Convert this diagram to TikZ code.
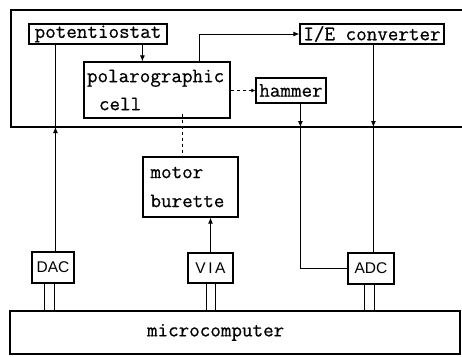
\documentclass[tikz,border=0pt]{standalone}
\usepackage{fontspec}
\setmainfont{Liberation Serif}
\newfontfamily\tw[FakeBold=0.6]{Latin Modern Mono}
\newfontfamily\sfl{Liberation Sans}
\usetikzlibrary{arrows.meta}
\begin{document}
\begin{tikzpicture}[x=1pt,y=-1pt,
  box/.style={draw, line width=1.2pt, inner sep=0pt, font=\tw\fontsize{20.5}{24}\selectfont},
  iobox/.style={draw, line width=1.1pt, inner sep=0pt, font=\sfl\fontsize{15.5}{17}\selectfont},
  conn/.style={line width=0.9pt},
  arr/.style={conn, -{Latex[length=6pt,width=5pt]}},
  darr/.style={conn, dashed, -{Latex[length=4pt,width=4pt]}},
  bus/.style={line width=2pt}]
\useasboundingbox (0,0) rectangle (462,356);
% top bus box (open on right)
\draw[bus] (462,10) -- (11,10) -- (11,127) -- (462,127);
\coordinate (busL) at (11,127);
% nodes
\node[box, minimum width=138pt, minimum height=20pt] (pot) at (98,34) {potentiostat};
\node[box, minimum width=144pt, minimum height=20pt] (ie) at (372,34) {I/E converter};
\node[box, minimum width=146pt, minimum height=56pt, text width=140pt, align=left] (cell) at (157,90)
  {polarographic\\[4pt]\hspace*{12pt}cell};
\node[box, minimum width=70pt, minimum height=25pt] (hammer) at (291,90.5) {hammer};
\node[box, minimum width=95pt, minimum height=60pt, text width=80pt, align=left] (motor) at (190.5,187)
  {motor\\[5pt]burette};
\node[iobox, minimum width=42pt, minimum height=31pt] (dac) at (53,267.5) {DAC};
\node[iobox, minimum width=45pt, minimum height=30pt] (via) at (210.5,268) {V\,I\,A};
\node[iobox, minimum width=46pt, minimum height=31pt] (adc) at (371,268.5) {ADC};
\node[box, line width=1.3pt, minimum width=450pt, minimum height=43pt, text width=444pt, align=left] (mc) at (235,332.5)
  {\hspace*{134pt}microcomputer};
% connectors
\draw[conn] ([xshift=27pt]pot.south west) -- ([xshift=27pt]pot.south west |- busL);
\draw[arr] ([xshift=24pt]dac.north west) -- ([xshift=24pt]dac.north west |- busL);
\draw[arr] ([xshift=114pt]pot.south west) -- ([xshift=114pt]pot.south west |- cell.north);
\draw[arr] ([xshift=116pt]cell.north west) |- (ie.west);
\draw[darr] (cell.east |- hammer.west) -- (hammer.west);
\draw[conn, dashed] ([xshift=99pt,yshift=5pt]cell.south west) -- ([xshift=99pt]cell.south west |- motor.north);
\draw[arr] ([xshift=45pt]hammer.south west) -- ([xshift=45pt]hammer.south west |- busL);
\draw[conn] ([xshift=45pt]hammer.south west |- busL) |- (adc.west);
\draw[arr] ([xshift=74pt]ie.south west) -- ([xshift=74pt]ie.south west |- busL);
\draw[conn] ([xshift=74pt]ie.south west |- busL) -- ([xshift=74pt]ie.south west |- adc.north);
\draw[arr] (via.north) -- (via.north |- motor.south);
% double bus links to microcomputer
\draw[conn] ([xshift=13pt]dac.south west) -- ([xshift=13pt]dac.south west |- mc.north);
\draw[conn] ([xshift=23pt]dac.south west) -- ([xshift=23pt]dac.south west |- mc.north);
\draw[conn] ([xshift=19pt]via.south west) -- ([xshift=19pt]via.south west |- mc.north);
\draw[conn] ([xshift=28pt]via.south west) -- ([xshift=28pt]via.south west |- mc.north);
\draw[conn] ([xshift=17pt]adc.south west) -- ([xshift=17pt]adc.south west |- mc.north);
\draw[conn] ([xshift=27pt]adc.south west) -- ([xshift=27pt]adc.south west |- mc.north);
\end{tikzpicture}
\end{document}
